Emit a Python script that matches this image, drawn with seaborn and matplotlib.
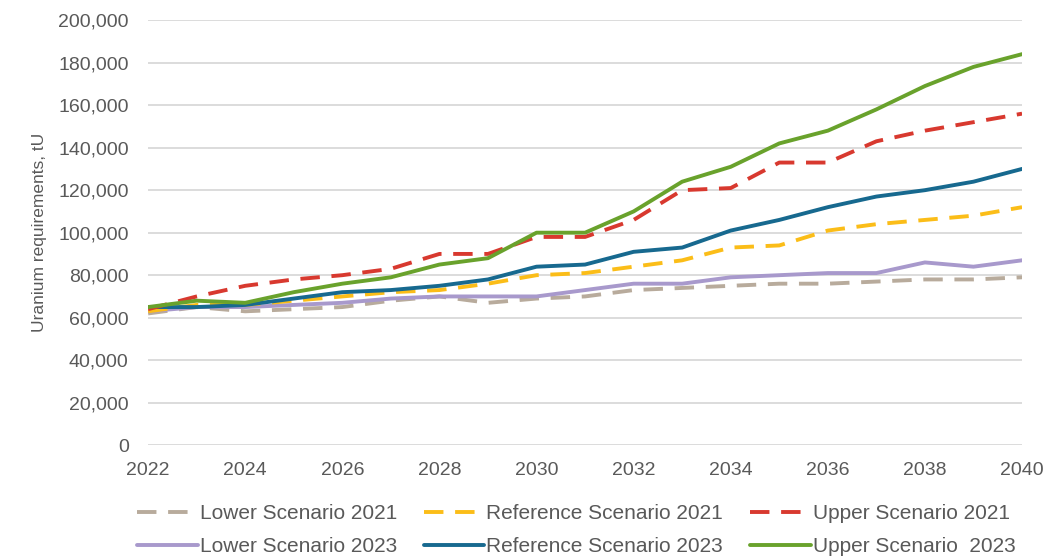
import matplotlib
matplotlib.use("Agg")
import matplotlib.pyplot as plt
import matplotlib.ticker as mticker
import pandas as pd
import seaborn as sns


years = list(range(2022, 2041))

lower_2021 = [62000, 65000, 63000, 64000, 65000, 68000, 70000, 67000, 69000, 70000,
              73000, 74000, 75000, 76000, 76000, 77000, 78000, 78000, 79000]
reference_2021 = [63000, 66000, 66000, 68000, 70000, 72000, 73000, 76000, 80000, 81000,
                  84000, 87000, 93000, 94000, 101000, 104000, 106000, 108000, 112000]
upper_2021 = [64000, 70000, 75000, 78000, 80000, 83000, 90000, 90000, 98000, 98000,
              106000, 120000, 121000, 133000, 133000, 143000, 148000, 152000, 156000]
lower_2023 = [63000, 65000, 65000, 66000, 67000, 69000, 70000, 70000, 70000, 73000,
              76000, 76000, 79000, 80000, 81000, 81000, 86000, 84000, 87000]
reference_2023 = [65000, 65000, 66000, 69000, 72000, 73000, 75000, 78000, 84000, 85000,
                  91000, 93000, 101000, 106000, 112000, 117000, 120000, 124000, 130000]
upper_2023 = [65000, 68000, 67000, 72000, 76000, 79000, 85000, 88000, 100000, 100000,
              110000, 124000, 131000, 142000, 148000, 158000, 169000, 178000, 184000]

# legend fills column by column, so 2021/2023 pairs sit one above the other
series = [
    ("Lower Scenario 2021", lower_2021, "#b8ab9c", True),
    ("Lower Scenario 2023", lower_2023, "#a899cc", False),
    ("Reference Scenario 2021", reference_2021, "#fbbd18", True),
    ("Reference Scenario 2023", reference_2023, "#17698f", False),
    ("Upper Scenario 2021", upper_2021, "#d8392f", True),
    ("Upper Scenario  2023", upper_2023, "#69a22c", False),
]

sns.set_theme(style="white")
plt.rcParams["font.family"] = ["Liberation Sans", "DejaVu Sans"]
text_color = "#595959"

fig = plt.figure(figsize=(10.58, 5.6), dpi=100)
ax = fig.add_axes([0.14, 0.205, 0.826, 0.759])

for name, values, color, dashed in series:
    df = pd.DataFrame({"year": years, "tU": values})
    line = sns.lineplot(data=df, x="year", y="tU", ax=ax, color=color,
                        linewidth=2.8, label=name)
    if dashed:
        line.lines[-1].set_dashes((5, 3))

ax.set_xlim(2022, 2040)
ax.set_ylim(0, 200000)
ax.set_xticks(range(2022, 2041, 2))
ax.set_yticks(range(0, 200001, 20000))
ax.yaxis.set_major_formatter(mticker.FuncFormatter(lambda v, p: f"{int(v):,}"))
ax.grid(axis="y", color="#d9d9d9", linewidth=1.3)
ax.set_axisbelow(True)
for side in ["top", "right", "left", "bottom"]:
    ax.spines[side].set_visible(False)
ax.tick_params(axis="both", colors=text_color, labelsize=14, length=0)
ax.tick_params(axis="y", pad=14)
ax.tick_params(axis="x", pad=12)
ax.set_xlabel("")
ax.set_ylabel("Uranium requirements, tU", color=text_color, fontsize=12.5, labelpad=8)

ax.legend(loc="upper center", bbox_to_anchor=(0.49, -0.095), ncol=3, frameon=False,
          fontsize=15, labelcolor=text_color, handlelength=2.9, handletextpad=0.1,
          columnspacing=1.3, labelspacing=0.65)

fig.savefig("out.png", dpi=100)
